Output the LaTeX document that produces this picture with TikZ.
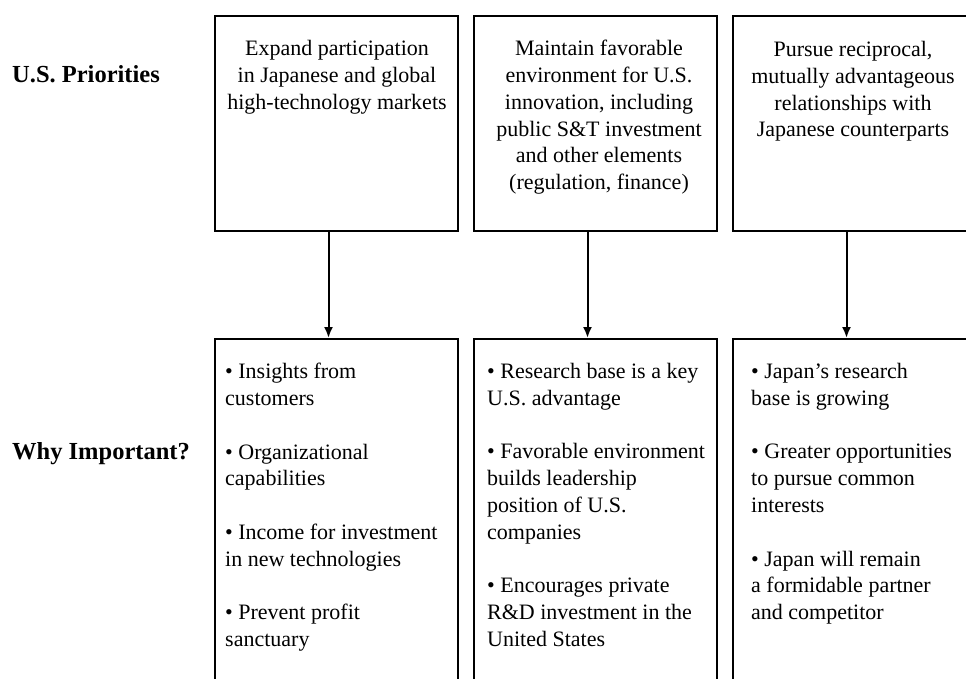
\documentclass[tikz,border=0pt]{standalone}
\usepackage{fontspec}
\setmainfont{Liberation Serif}
\usetikzlibrary{positioning,arrows.meta}

\tikzset{
  prio/.style={draw, line width=2pt, minimum width=243pt, minimum height=215pt, anchor=north west, inner sep=0pt},
  why/.style={draw, line width=2pt, minimum width=243pt, minimum height=380pt, anchor=north west, inner sep=0pt},
  priotext/.style={anchor=north, align=center, inner sep=0pt, font=\fontsize{22}{26.8}\selectfont},
  whytext/.style={anchor=north west, align=left, inner sep=0pt, font=\fontsize{22}{26.8}\selectfont},
  rowlabel/.style={anchor=base west, inner sep=0pt, font=\fontsize{24.5}{28}\selectfont\bfseries},
  link/.style={line width=2pt, -{Latex[length=11pt,width=9pt]}}
}
\newcommand{\itemgap}{\\[26.8pt]}

\begin{document}
\begin{tikzpicture}[x=1pt, y=-1pt]
\useasboundingbox (0,0) rectangle (966,679);
\clip (0,0) rectangle (966,679);
% row labels
\node[rowlabel] (lprio) at (12,83) {U.S. Priorities};
\node[rowlabel] (lwhy) at (12,459) {Why Important?};
% priorities
\node[prio] (p1) at (214,15) {};
\node[prio] (p2) at (473,15) {};
\node[prio] (p3) at (732,15) {};
\node[priotext] (p1t) at (337,40) {Expand participation\\in Japanese and global\\high-technology markets};
\node[priotext] (p2t) at (599,40) {Maintain favorable\\environment for U.S.\\innovation, including\\public S\&T investment\\and other elements\\(regulation, finance)};
\node[priotext] (p3t) at (853,41) {Pursue reciprocal,\\mutually advantageous\\relationships with\\Japanese counterparts};
% reasons
\node[why] (w1) at (214,338) {};
\node[why] (w2) at (473,338) {};
\node[why] (w3) at (732,338) {};
\node[whytext] (w1t) at (225,363) {\textbullet{} Insights from\\customers\itemgap
  \textbullet{} Organizational\\capabilities\itemgap
  \textbullet{} Income for investment\\in new technologies\itemgap
  \textbullet{} Prevent profit\\sanctuary};
\node[whytext] (w2t) at (487,363) {\textbullet{} Research base is a key\\U.S. advantage\itemgap
  \textbullet{} Favorable environment\\builds leadership\\position of U.S.\\companies\itemgap
  \textbullet{} Encourages private\\R\&D investment in the\\United States};
\node[whytext] (w3t) at (751,363) {\textbullet{} Japan’s research\\base is growing\itemgap
  \textbullet{} Greater opportunities\\to pursue common\\interests\itemgap
  \textbullet{} Japan will remain\\a formidable partner\\and competitor};
% arrows
\draw[link] ([xshift=-8pt]p1.south) -- ([xshift=-8pt]w1.north);
\draw[link] ([xshift=-8pt]p2.south) -- ([xshift=-8pt]w2.north);
\draw[link] ([xshift=-8pt]p3.south) -- ([xshift=-8pt]w3.north);
\end{tikzpicture}
\end{document}
